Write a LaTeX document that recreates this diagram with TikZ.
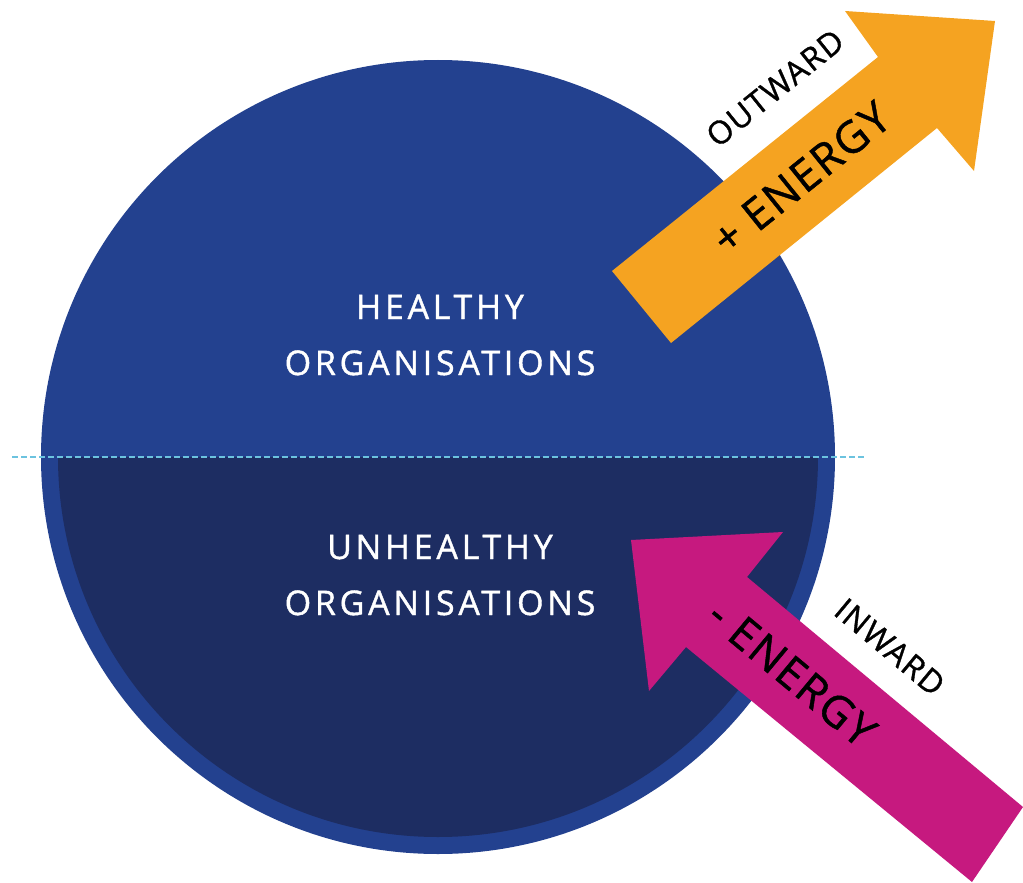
\documentclass[tikz,border=0pt]{standalone}
\usepackage{fontspec}
\setmainfont{Open Sans}
\newfontfamily\orgfont[LetterSpace=11, FakeBold=1.2]{Open Sans}
\newfontfamily\arrowfont[LetterSpace=4, FakeBold=1]{Open Sans}
\usetikzlibrary{positioning}
\definecolor{healthyBlue}{HTML}{23418F}
\definecolor{unhealthyBlue}{HTML}{1D2D62}
\definecolor{outwardOrange}{HTML}{F5A321}
\definecolor{inwardMagenta}{HTML}{C6197F}
\definecolor{splitCyan}{HTML}{6CC3DF}

\begin{document}
\begin{tikzpicture}[x=1pt, y=-1pt,
    orgLabel/.style={text=white, align=center, inner sep=0pt, font=\orgfont\fontsize{34}{56}\selectfont},
    energyLabel/.style={text=black, inner sep=0pt, font=\arrowfont\fontsize{44}{48}\selectfont},
    flowLabel/.style={text=black, inner sep=0pt, font=\arrowfont\fontsize{32}{34}\selectfont}]
    \useasboundingbox (0,0) rectangle (1023,883);

    % circle, lower half darker
    \fill[healthyBlue] (438,457) circle (397);
    \begin{scope}
        \clip (0,457) rectangle (1023,883);
        \fill[unhealthyBlue] (438,457) circle (380);
    \end{scope}
    \coordinate (splitL) at (12,457);
    \coordinate (splitR) at (865,457);
    \draw[splitCyan, line width=2pt, dash pattern=on 6pt off 3pt] (splitL) -- (splitR);

    \node[orgLabel] (healthy) at (440,335) {HEALTHY\\ORGANISATIONS};
    \node[orgLabel] (unhealthy) at (440,575) {UNHEALTHY\\ORGANISATIONS};

    % arrows
    \fill[outwardOrange] (612,271) -- (878,57) -- (845,11) -- (995,21) -- (974,171) -- (937,128) -- (671,343) -- cycle;
    \fill[inwardMagenta] (1023,807) -- (747,577) -- (783,532) -- (631,540) -- (649,691) -- (686,647) -- (972,882) -- cycle;

    \node[energyLabel, rotate=38.8] (plusEnergy) at (801,178) {+ ENERGY};
    \node[flowLabel, rotate=38.8] (outward) at (775,88) {OUTWARD};
    \node[energyLabel, rotate=-39.8] (minusEnergy) at (792,673) {- ENERGY};
    \node[flowLabel, rotate=-39.8] (inward) at (890,647) {INWARD};
\end{tikzpicture}
\end{document}
